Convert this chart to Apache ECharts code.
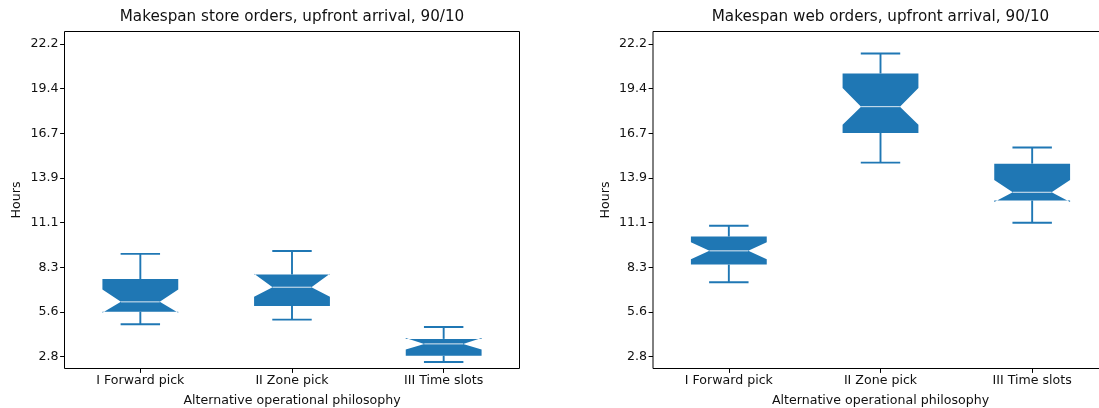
<!DOCTYPE html>
<html>
<head>
<meta charset="utf-8">
<script src="https://cdn.jsdelivr.net/npm/echarts@6/dist/echarts.min.js"></script>
<style>
  html, body { margin: 0; padding: 0; background: #fff; }
  #chart { width: 1099px; height: 408px; }
</style>
</head>
<body>
<div id="chart"></div>
<script>
// Categories and y tick marks
const categories = ['I Forward pick', 'II Zone pick', 'III Time slots'];
const tickValues = [2.775, 5.55, 8.325, 11.1, 13.875, 16.65, 19.425, 22.2];
const tickLabels = ['2.8', '5.6', '8.3', '11.1', '13.9', '16.7', '19.4', '22.2'];

// Store orders: notched box statistics (hours)
const storeWhiskerLow  = [4.79, 5.08, 2.44];
const storeQ1          = [5.57, 5.93, 2.83];
const storeNotchLow    = [5.50, 6.50, 3.22];
const storeMedian      = [6.18, 7.09, 3.57];
const storeNotchHigh   = [6.95, 7.93, 3.93];
const storeQ3          = [7.60, 7.88, 3.88];
const storeWhiskerHigh = [9.16, 9.34, 4.62];

// Web orders: notched box statistics (hours)
const webWhiskerLow  = [7.40, 14.83, 11.10];
const webQ1          = [8.50, 16.68, 12.48];
const webNotchLow    = [8.83, 17.18, 12.38];
const webMedian      = [9.35, 18.31, 12.99];
const webNotchHigh   = [9.88, 19.47, 13.75];
const webQ3          = [10.24, 20.37, 14.77];
const webWhiskerHigh = [10.91, 21.61, 15.77];

const titles = [
  'Makespan store orders, upfront arrival, 90/10',
  'Makespan web orders, upfront arrival, 90/10'
];

const BLUE = '#1f77b4';
const FONT = 'DejaVu Sans';
const LABEL_SIZE = 12.6;
const TITLE_SIZE = 15.2;

function rows(lo, q1, nlo, med, nhi, q3, hi) {
  return categories.map((_, i) => [i, lo[i], q1[i], nlo[i], med[i], nhi[i], q3[i], hi[i]]);
}

// Notched box drawn as a single polygon (matplotlib-style path)
function renderBox(params, api) {
  const i = api.value(0);
  const band = api.size([1, 0])[0];
  const cx = api.coord([i, api.value(4)])[0];
  const y = (k) => api.coord([i, api.value(k)])[1];
  const yLo = y(1), yQ1 = y(2), yNlo = y(3), yMed = y(4), yNhi = y(5), yQ3 = y(6), yHi = y(7);
  const half = band * 0.25;
  const notchHalf = band * 0.128;
  const capHalf = band * 0.13;
  const L = cx - half, R = cx + half;
  const wStyle = { stroke: BLUE, lineWidth: 1.9, fill: null };
  return {
    type: 'group',
    children: [
      {
        type: 'polygon',
        shape: { points: [
          [L, yQ1], [R, yQ1], [R, yNlo], [cx + notchHalf, yMed], [R, yNhi], [R, yQ3],
          [L, yQ3], [L, yNhi], [cx - notchHalf, yMed], [L, yNlo]
        ] },
        style: { fill: BLUE, stroke: null }
      },
      { type: 'line', shape: { x1: cx - notchHalf, y1: yMed, x2: cx + notchHalf, y2: yMed },
        style: { stroke: '#dde9f3', lineWidth: 1 } },
      { type: 'line', shape: { x1: cx, y1: yQ1, x2: cx, y2: yLo }, style: wStyle },
      { type: 'line', shape: { x1: cx, y1: yQ3, x2: cx, y2: yHi }, style: wStyle },
      { type: 'line', shape: { x1: cx - capHalf, y1: yLo, x2: cx + capHalf, y2: yLo }, style: wStyle },
      { type: 'line', shape: { x1: cx - capHalf, y1: yHi, x2: cx + capHalf, y2: yHi }, style: wStyle }
    ]
  };
}

function nearestLabel(v) {
  let best = 0;
  tickValues.forEach((t, k) => { if (Math.abs(t - v) < Math.abs(tickValues[best] - v)) best = k; });
  return tickLabels[best];
}

const gridLefts = [64.5, 653];
const GRID_W = 455, GRID_TOP = 31.5, GRID_H = 337;

const chart = echarts.init(document.getElementById('chart'), null, { renderer: 'canvas' });

const option = {
  backgroundColor: '#fff',
  animation: false,
  title: titles.map((t, k) => ({
    text: t,
    left: gridLefts[k] + GRID_W / 2,
    top: 10,
    textAlign: 'center',
    padding: 0,
    textStyle: { fontFamily: FONT, fontSize: TITLE_SIZE, fontWeight: 'normal', color: '#111' }
  })),
  grid: gridLefts.map(l => ({
    left: l, top: GRID_TOP, width: GRID_W, height: GRID_H,
    show: true, borderColor: '#000', borderWidth: 1, backgroundColor: 'transparent',
    containLabel: false, outerBoundsMode: 'none'
  })),
  xAxis: gridLefts.map((_, k) => ({
    type: 'category', gridIndex: k, data: categories, boundaryGap: true,
    name: 'Alternative operational philosophy', nameLocation: 'middle', nameGap: 26,
    nameTextStyle: { fontFamily: FONT, fontSize: LABEL_SIZE, color: '#111' },
    axisLine: { show: false },
    axisTick: { show: true, alignWithLabel: true, length: 4.4, lineStyle: { color: '#000' } },
    axisLabel: { fontFamily: FONT, fontSize: LABEL_SIZE, color: '#111', margin: 6 },
    splitLine: { show: false }
  })),
  yAxis: gridLefts.map((_, k) => ({
    type: 'value', gridIndex: k, min: 2.04, max: 22.98,
    name: 'Hours', nameLocation: 'middle', nameGap: 41, nameRotate: 90,
    nameTextStyle: { fontFamily: FONT, fontSize: LABEL_SIZE, color: '#111' },
    axisLine: { show: false },
    axisTick: { show: true, length: 4.4, customValues: tickValues, lineStyle: { color: '#000' } },
    axisLabel: { fontFamily: FONT, fontSize: LABEL_SIZE, color: '#111', margin: 6,
      customValues: tickValues, formatter: nearestLabel },
    splitLine: { show: false }
  })),
  series: [
    {
      type: 'custom', xAxisIndex: 0, yAxisIndex: 0, renderItem: renderBox,
      encode: { x: 0, y: [1, 2, 3, 4, 5, 6, 7] },
      data: rows(storeWhiskerLow, storeQ1, storeNotchLow, storeMedian, storeNotchHigh, storeQ3, storeWhiskerHigh)
    },
    {
      type: 'custom', xAxisIndex: 1, yAxisIndex: 1, renderItem: renderBox,
      encode: { x: 0, y: [1, 2, 3, 4, 5, 6, 7] },
      data: rows(webWhiskerLow, webQ1, webNotchLow, webMedian, webNotchHigh, webQ3, webWhiskerHigh)
    }
  ]
};

chart.setOption(option);
</script>
</body>
</html>
